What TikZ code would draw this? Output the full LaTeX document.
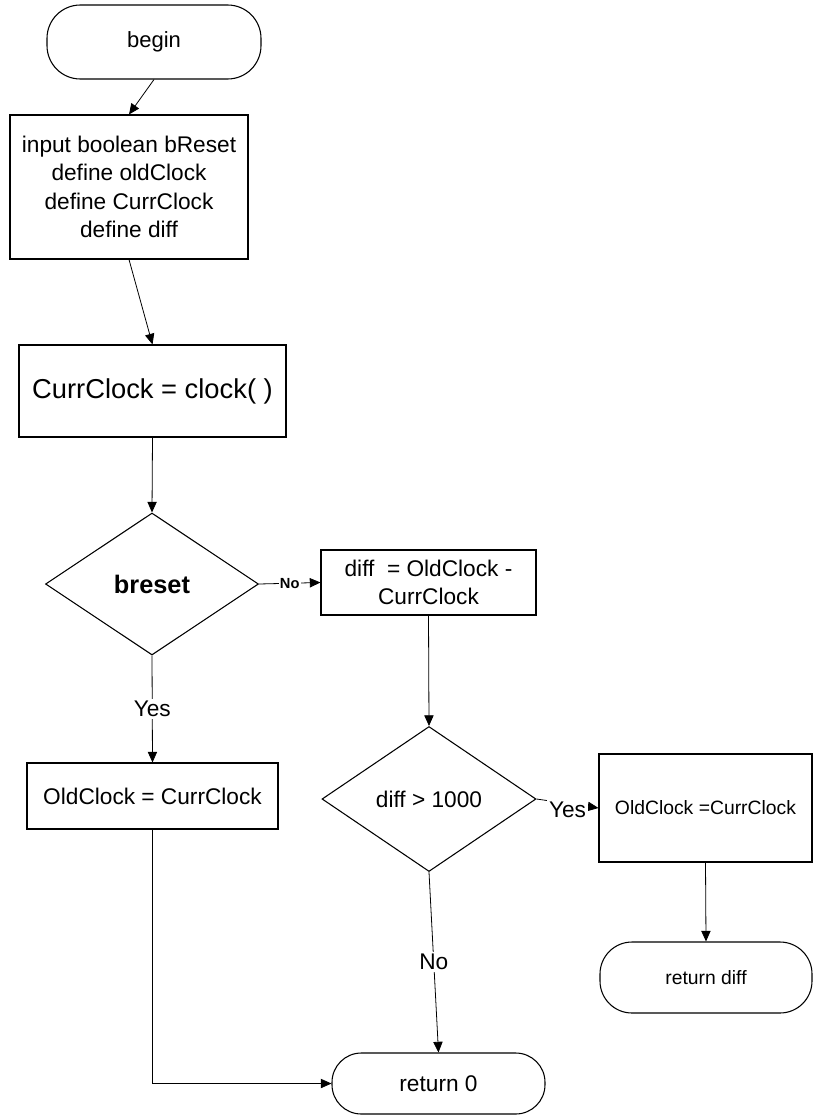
\documentclass[tikz,border=0pt]{standalone}
\usepackage{fontspec}
\setmainfont{Liberation Sans}
\usetikzlibrary{shapes.geometric,arrows.meta}
\begin{document}
\begin{tikzpicture}[x=0.75pt,y=-0.75pt,
 proc/.style={draw, rectangle, inner sep=0pt, align=center, line width=0.8pt},
 term/.style={draw, rectangle, rounded corners=22pt, inner sep=0pt, line width=0.8pt},
 decision/.style={draw, diamond, inner sep=0pt, line width=0.8pt},
 flow/.style={line width=0.6pt, -{Triangle[length=8pt,width=7pt]}},
 lbl/.style={fill=white, inner sep=1.5pt, font=\fontsize{17}{20}\selectfont}]
\fill[white] (0,0) rectangle (814,1117);
\useasboundingbox (0,0) rectangle (814,1117);

\node[term, rounded corners=25pt, minimum width=160.5pt, minimum height=55.5pt, font=\fontsize{16.5}{20}\selectfont] (begin) at (154,42) {begin};
\node[proc, minimum width=178.5pt, minimum height=108pt, font=\fontsize{17}{21.4}\selectfont] (init) at (129,187)
 {input boolean bReset\\define oldClock\\define CurrClock\\define diff};
\node[proc, minimum width=200.25pt, minimum height=69pt, font=\fontsize{20.5}{24}\selectfont] (clock) at (152.5,391) {CurrClock = clock( )};
\node[decision, minimum width=159.75pt, minimum height=106.5pt, font=\bfseries\fontsize{19}{22}\selectfont] (breset) at (152,584) {breset};
\node[proc, minimum width=161.25pt, minimum height=48.75pt, font=\fontsize{17}{21.5}\selectfont] (diff) at (428.5,582.5) {diff\ \ = OldClock -\\CurrClock};
\node[decision, minimum width=160.5pt, minimum height=108.75pt, font=\fontsize{17}{20}\selectfont] (big) at (429,799) {diff > 1000};
\node[proc, minimum width=188.25pt, minimum height=49.5pt, font=\fontsize{17}{20}\selectfont] (oldL) at (152.5,796) {OldClock = CurrClock};
\node[proc, minimum width=159.75pt, minimum height=81pt, font=\fontsize{14.5}{18}\selectfont] (oldR) at (705.5,808) {OldClock =CurrClock};
\node[term, rounded corners=24pt, minimum width=159pt, minimum height=53.25pt, font=\fontsize{14.5}{18}\selectfont] (retdiff) at (706,977.5) {return diff};
\node[term, minimum width=159.75pt, minimum height=45.75pt, font=\fontsize{17}{20}\selectfont] (ret0) at (438.5,1083.5) {return 0};

\draw[flow] (begin.south) -- (init.north);
\draw[flow] (init.south) -- (clock.north);
\draw[flow] (clock.south) -- (breset.north);
\draw[flow] (breset.east) -- node[fill=white, inner sep=1pt, font=\bfseries\fontsize{11}{13}\selectfont] {No} (diff.west);
\draw[flow] (diff.south) -- (big.north);
\draw[flow] (breset.south) -- node[lbl] {Yes} (oldL.north);
\draw[flow] (oldL.south) |- (ret0.west);
\draw[flow] (big.south) -- node[lbl] {No} (ret0.north);
\draw[flow] (big.east) -- node[lbl, pos=0.5, yshift=-5pt] {Yes} (oldR.west);
\draw[flow] (oldR.south) -- (retdiff.north);
\end{tikzpicture}
\end{document}
